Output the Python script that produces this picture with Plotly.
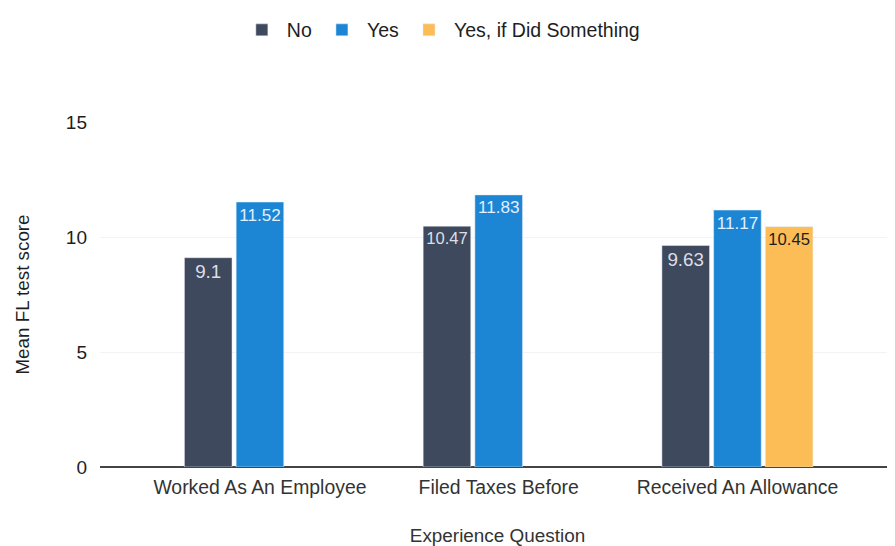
import plotly.graph_objects as go

categories = ["Worked As An Employee", "Filed Taxes Before", "Received An Allowance"]
no_vals = [9.1, 10.47, 9.63]
yes_vals = [11.52, 11.83, 11.17]
yes_did_vals = [None, None, 10.45]
series_names = ["No", "Yes", "Yes, if Did Something"]
y_ticks = [0, 5, 10, 15]

colors = ["#3e495d", "#1c86d4", "#fcbc56"]
text_colors = ["#dcdfe6", "#e3efff", "#1e1e1e"]

FONT = "Liberation Sans"

def fmt(v):
    return "" if v is None else f"{v:g}"

fig = go.Figure()
for name, vals, c, tc in zip(series_names, [no_vals, yes_vals, yes_did_vals], colors, text_colors):
    fig.add_trace(go.Bar(
        x=categories, y=vals, name=name, marker_color=c,
        text=[fmt(v) for v in vals], textposition="inside",
        insidetextanchor="end", textangle=0,
        textfont=dict(color=tc, size=18.8, family=FONT),
    ))

# page body has an 8px margin, so the figure is 8px smaller and offset
fig.update_layout(
    width=887, height=538,
    margin=dict(l=92, r=0, t=114, b=79, autoexpand=False),
    paper_bgcolor="white", plot_bgcolor="white",
    barmode="group", bargap=0.35, bargroupgap=0.08,
    font=dict(family=FONT, color="#2e2e2e", size=19),
    legend=dict(orientation="h", x=0.488, xanchor="center", xref="container",
                y=0.995, yanchor="top", yref="container",
                font=dict(size=19.5, color="#1e1e1e"),
                traceorder="normal", itemwidth=40),
    showlegend=True,
)
fig.update_xaxes(range=[-0.67, 2.66], showline=False, ticks="", automargin=False,
                 tickfont=dict(size=19.4, color="#333333"), ticklabelstandoff=7,
                 title=dict(text="Experience Question", font=dict(size=18.9, color="#333333"), standoff=41))
fig.update_yaxes(range=[0, 15], tickvals=y_ticks, showgrid=True, gridcolor="#f3f3f3",
                 zeroline=True, zerolinecolor="#444444", zerolinewidth=2, automargin=False,
                 tickfont=dict(size=19, color="#1e1e1e"), ticklabelstandoff=12,
                 title=dict(text="Mean FL test score", font=dict(size=18.8, color="#1e1e1e"), standoff=31))

fig.write_html("out.html")
